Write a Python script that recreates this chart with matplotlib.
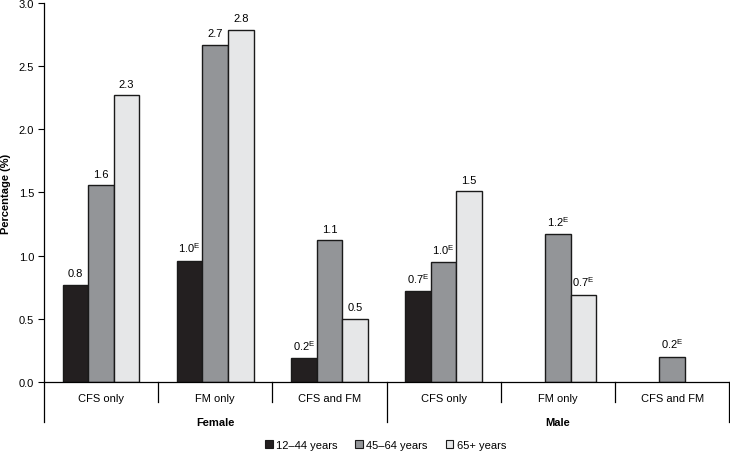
import matplotlib
matplotlib.use("Agg")
import matplotlib.pyplot as plt
from matplotlib.patches import Patch
import numpy as np

plt.rcParams['font.family'] = ['Liberation Sans', 'DejaVu Sans']

# data
categories = ["CFS only", "FM only", "CFS and FM", "CFS only", "FM only", "CFS and FM"]
sexes = ["Female", "Male"]
age_groups = ["12\u201344 years", "45\u201364 years", "65+ years"]

vals_12_44 = [0.77, 0.96, 0.19, 0.72, np.nan, np.nan]
vals_45_64 = [1.56, 2.67, 1.12, 0.95, 1.17, 0.20]
vals_65 = [2.27, 2.79, 0.50, 1.51, 0.69, np.nan]

lab_12_44 = ["0.8", "1.0E", "0.2E", "0.7E", "", ""]
lab_45_64 = ["1.6", "2.7", "1.1", "1.0E", "1.2E", "0.2E"]
lab_65 = ["2.3", "2.8", "0.5", "1.5", "0.7E", ""]

colors = ["#231f20", "#939598", "#e6e7e8"]
fs = 8

fig = plt.figure(figsize=(7.30, 4.52), dpi=100)
ax = fig.add_axes([0.060, 0.153, 0.939, 0.838])

x = np.arange(len(categories))
w = 0.224
series = [vals_12_44, vals_45_64, vals_65]
labels = [lab_12_44, lab_45_64, lab_65]

def fmt(s):
    if s.endswith("E"):
        return s[:-1] + r"$^{\mathregular{E}}$"
    return s

for i, (vals, labs) in enumerate(zip(series, labels)):
    xs = x + (i - 1) * w
    ax.bar(xs, vals, width=w, color=colors[i], edgecolor="#1a1a1a", linewidth=1.0)
    for xi, v, l in zip(xs, vals, labs):
        if l and not np.isnan(v):
            ax.text(xi, v + 0.05, fmt(l), ha="center", va="bottom", fontsize=fs)

ax.set_xlim(-0.5, 5.5)
ax.set_ylim(0, 3.0)
ticks = np.arange(0, 3.01, 0.5)
ax.set_yticks(ticks)
ax.set_yticklabels([f"{t:.1f}" for t in ticks], fontsize=fs)
ax.tick_params(axis="y", length=4, width=0.8, pad=3)
ax.set_ylabel("Percentage (%)", fontsize=fs, fontweight="bold")
ax.yaxis.set_label_coords(-0.048, 0.5)

ax.set_xticks(x)
ax.set_xticklabels(categories, fontsize=fs)
ax.tick_params(axis="x", length=0, pad=8)

for s in ["top", "right"]:
    ax.spines[s].set_visible(False)
ax.spines["left"].set_linewidth(0.9)
ax.spines["bottom"].set_linewidth(0.9)

# divider lines below the axis
tr = ax.get_xaxis_transform()
for d in [0.5, 1.5, 3.5, 4.5]:
    ax.plot([d, d], [0, -0.053], color="black", lw=0.9, transform=tr, clip_on=False)
for d in [-0.5, 2.5, 5.5]:
    ax.plot([d, d], [0, -0.105], color="black", lw=0.9, transform=tr, clip_on=False)

for j, sx in enumerate(sexes):
    ax.text(1 + 3 * j, -0.105, sx, ha="center", va="center", fontsize=fs,
            fontweight="bold", transform=tr)

handles = [Patch(facecolor=c, edgecolor="#1a1a1a", linewidth=0.8) for c in colors]
fig.legend(handles, age_groups, loc="center", bbox_to_anchor=(0.528, 0.014), ncol=3,
           frameon=False, fontsize=fs, handlelength=0.7, handleheight=0.7,
           handletextpad=0.3, columnspacing=1.6)

fig.savefig("out.png", dpi=100)
